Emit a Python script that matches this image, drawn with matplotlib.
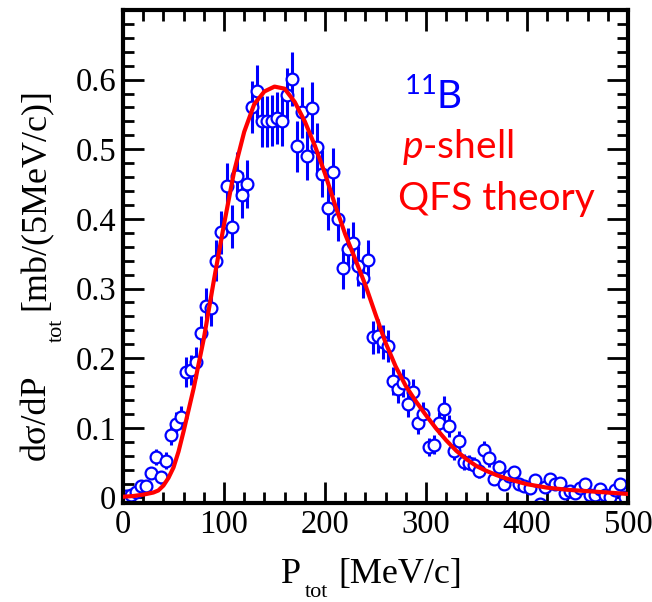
import numpy as np
import matplotlib.pyplot as plt
from matplotlib.ticker import MultipleLocator

# measured momentum distribution, 5 MeV/c bins
p_tot = np.arange(2.5, 500, 5.0)
counts = [0.002, 0.004, 0.008, 0.016, 0.016, 0.035, 0.058, 0.029, 0.053, 0.090,
          0.106, 0.115, 0.180, 0.183, 0.194, 0.236, 0.275, 0.272, 0.340, 0.381,
          0.447, 0.389, 0.462, 0.435, 0.450, 0.561, 0.583, 0.540, 0.540, 0.541,
          0.545, 0.541, 0.578, 0.601, 0.504, 0.553, 0.491, 0.559, 0.503, 0.465,
          0.416, 0.468, 0.400, 0.329, 0.357, 0.366, 0.332, 0.315, 0.341, 0.230,
          0.232, 0.223, 0.217, 0.167, 0.156, 0.164, 0.134, 0.151, 0.107, 0.120,
          0.072, 0.076, 0.107, 0.127, 0.103, 0.067, 0.081, 0.051, 0.050, 0.047,
          0.038, 0.068, 0.056, 0.026, 0.044, 0.020, 0.031, 0.036, 0.020, 0.017,
          0.014, 0.025, -0.009, 0.015, 0.027, 0.020, 0.021, 0.007, 0.009, 0.007,
          0.014, 0.020, 0.004, 0.004, 0.012, 0.004, 0.001, 0.011, 0.019, 0.001]
errors = [0.003, 0.004, 0.005, 0.006, 0.006, 0.009, 0.012, 0.009, 0.012, 0.015,
          0.016, 0.017, 0.021, 0.021, 0.022, 0.024, 0.026, 0.026, 0.029, 0.031,
          0.033, 0.031, 0.034, 0.033, 0.034, 0.037, 0.038, 0.037, 0.037, 0.037,
          0.037, 0.037, 0.038, 0.039, 0.036, 0.037, 0.035, 0.037, 0.035, 0.034,
          0.032, 0.034, 0.032, 0.029, 0.030, 0.030, 0.029, 0.028, 0.029, 0.024,
          0.024, 0.024, 0.023, 0.020, 0.020, 0.020, 0.018, 0.019, 0.016, 0.017,
          0.013, 0.014, 0.016, 0.018, 0.016, 0.013, 0.014, 0.011, 0.011, 0.011,
          0.010, 0.013, 0.012, 0.008, 0.010, 0.007, 0.009, 0.009, 0.007, 0.007,
          0.006, 0.008, 0.005, 0.006, 0.008, 0.007, 0.007, 0.004, 0.005, 0.004,
          0.006, 0.007, 0.004, 0.004, 0.005, 0.004, 0.003, 0.005, 0.007, 0.003]

# QFS theory curve
p_theory = [0, 10, 20, 30, 35, 40, 45, 50, 55, 60, 70, 80, 90, 100, 110, 120,
            130, 140, 150, 160, 170, 180, 190, 200, 210, 220, 230, 240, 250, 260,
            270, 280, 290, 300, 310, 320, 330, 340, 350, 360, 370, 380, 390, 400,
            420, 440, 460, 480, 500]
theory = [0.001, 0.002, 0.004, 0.007, 0.010, 0.017, 0.028, 0.043, 0.066, 0.095,
          0.157, 0.228, 0.312, 0.392, 0.468, 0.525, 0.565, 0.583, 0.590, 0.587,
          0.568, 0.540, 0.505, 0.465, 0.420, 0.378, 0.342, 0.305, 0.263, 0.222,
          0.188, 0.160, 0.138, 0.118, 0.099, 0.082, 0.067, 0.055, 0.045, 0.038,
          0.032, 0.027, 0.023, 0.019, 0.014, 0.011, 0.009, 0.007, 0.005]

serif = 'Liberation Serif'
sans = 'Lato'
plt.rcParams['mathtext.fontset'] = 'custom'
plt.rcParams['mathtext.rm'] = sans
plt.rcParams['mathtext.it'] = sans + ':italic'

fig = plt.figure(figsize=(6.52, 6.02), dpi=100)
ax = fig.add_axes([123 / 652, 1 - 503 / 602, 505 / 652, 493 / 602])

ax.errorbar(p_tot, counts, yerr=errors, fmt='o', color='blue', ecolor='blue',
            elinewidth=2.2, capsize=0, markersize=8.5, markerfacecolor='white',
            markeredgewidth=1.6, zorder=2)
ax.plot(p_theory, theory, color='red', lw=3, zorder=3)

ax.set_xlim(0, 500)
ax.set_ylim(-0.008, 0.7)
ax.set_xticks([0, 100, 200, 300, 400, 500])
ax.set_xticklabels(['0', '100', '200', '300', '400', '500'])
ax.set_yticks([0, 0.1, 0.2, 0.3, 0.4, 0.5, 0.6])
ax.set_yticklabels(['0', '0.1', '0.2', '0.3', '0.4', '0.5', '0.6'])
ax.xaxis.set_minor_locator(MultipleLocator(20))
ax.yaxis.set_minor_locator(MultipleLocator(0.02))
ax.tick_params(which='both', direction='in', top=True, right=True, width=2)
ax.tick_params(which='major', length=15, labelsize=23.5, pad=5)
ax.tick_params(which='minor', length=8)
for lab in ax.get_xticklabels() + ax.get_yticklabels():
    lab.set_family(serif)
for s in ax.spines.values():
    s.set_linewidth(3)

# axis labels, ROOT-style with low subscripts
fig.text(281 / 652, 1 - 583 / 602, 'P', family=serif, fontsize=26)
fig.text(305 / 652, 1 - 597 / 602, 'tot', family=serif, fontsize=16)
fig.text(338 / 652, 1 - 583 / 602, '[MeV/c]', family=serif, fontsize=26)

fig.text(20 / 652, 1 - 452 / 602, 'd\u03c3/dP', family=serif, fontsize=26, rotation=90)
fig.text(48 / 652, 1 - 337 / 602, 'tot', family=serif, fontsize=16, rotation=90)
fig.text(20 / 652, 1 - 302 / 602, '[mb/(5MeV/c)]', family=serif, fontsize=26, rotation=90)

ax.text(0.556, 0.801, '$^{11}$B', transform=ax.transAxes, color='blue',
        family=sans, fontsize=28)
ax.text(0.553, 0.700, '$\\it{p}$-shell', transform=ax.transAxes, color='red',
        family=sans, fontsize=28)
ax.text(0.545, 0.594, 'QFS theory', transform=ax.transAxes, color='red',
        family=sans, fontsize=28)

fig.savefig('out.png', dpi=100)
